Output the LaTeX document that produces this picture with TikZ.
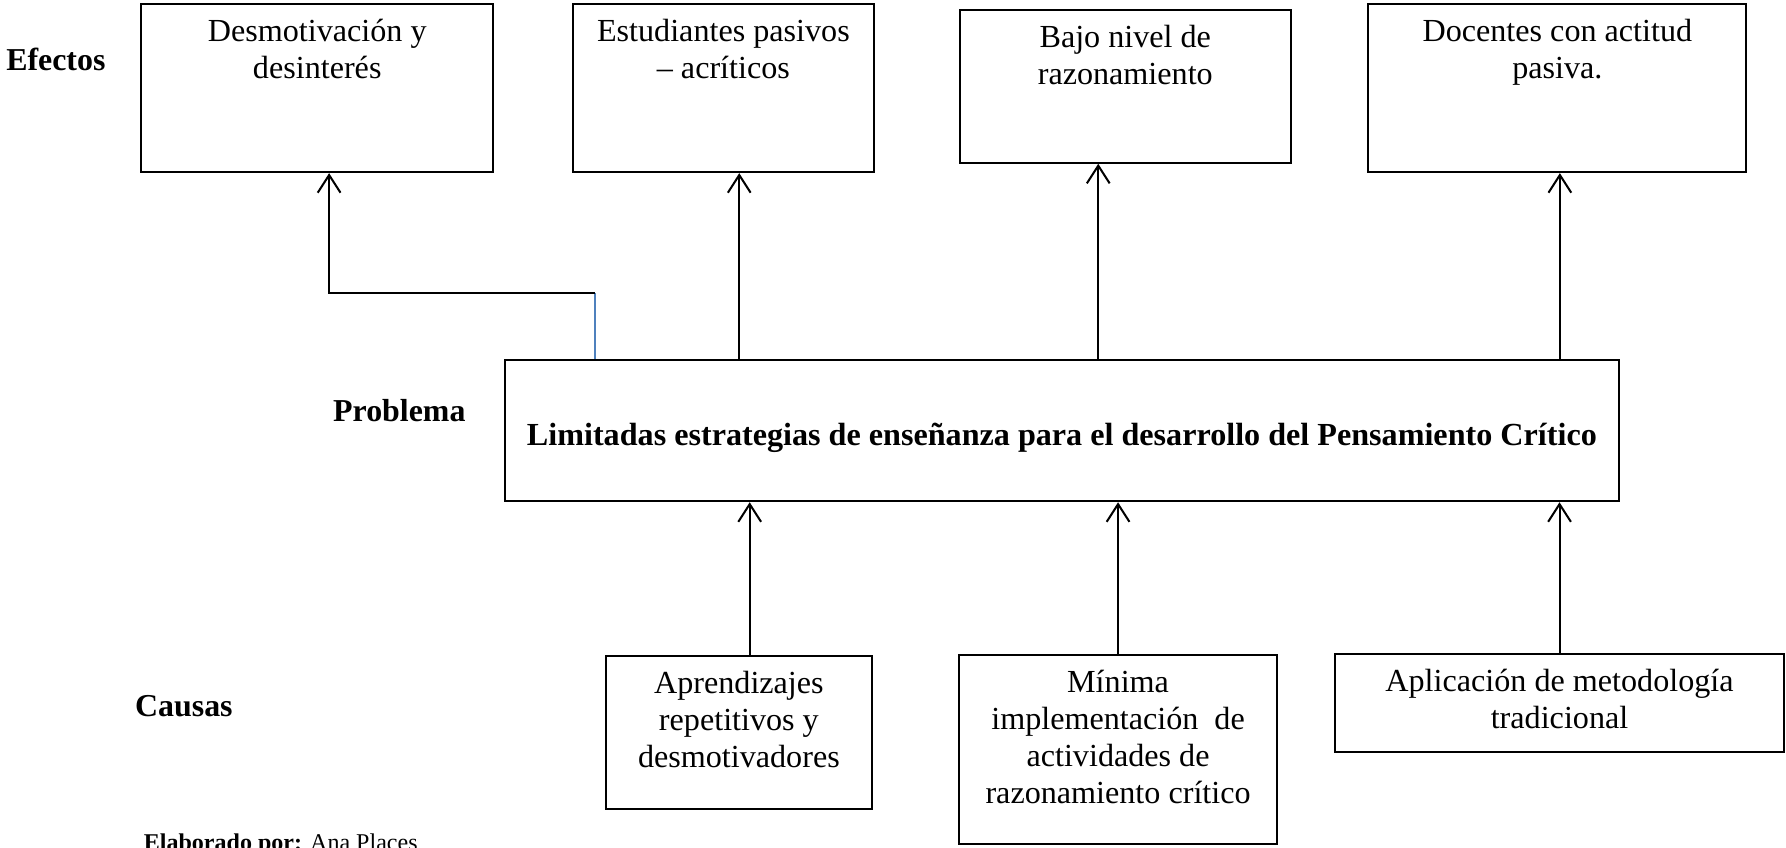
\documentclass[tikz,border=0pt]{standalone}
\usepackage{fontspec}
\setmainfont{Liberation Serif}
\usepackage{tikz}
\usetikzlibrary{calc}
\usetikzlibrary{arrows.meta}
\definecolor{azul}{RGB}{79,129,189}
\tikzset{
  caja/.style={draw, line width=0.8pt, rectangle, inner sep=0pt, font=\fontsize{12.7}{14.6}\selectfont},
  titulo/.style={anchor=west, inner sep=0pt, font=\fontsize{12.6}{14.4}\selectfont\bfseries},
  flecha/.style={line width=0.8pt, -{Straight Barb[length=7pt,width=9pt]}},
  linea/.style={line width=0.8pt}
}
\newcommand{\caja}[6]{\node[caja] (#1) at ( #2 , #3 ) {\begin{minipage}[c][#5cm][t]{#4cm}\centering\vspace*{6pt}#6\end{minipage}};}

\begin{document}
\begin{tikzpicture}
                \useasboundingbox (0,0) rectangle (24.80,11.77);
                % efectos
                \caja{ef1}{4.405}{10.55}{4.89}{2.34}{Desmotivación y\\ desinterés}
                \caja{ef2}{10.045}{10.55}{4.18}{2.34}{Estudiantes pasivos\\ – acríticos}
                \caja{ef3}{15.625}{10.57}{4.59}{2.12}{Bajo nivel de\\ razonamiento}
                \caja{ef4}{21.625}{10.55}{5.25}{2.34}{Docentes con actitud\\ pasiva.}
                % problema
                \node[caja, minimum width=15.47cm, minimum height=1.96cm, font=\fontsize{12.7}{14.6}\selectfont\bfseries] (problema) at (14.745,5.79) {\raisebox{-2.7pt}[9pt][3pt]{Limitadas estrategias de enseñanza para el desarrollo del Pensamiento Crítico}};
                % causas
                \caja{ca1}{10.26}{1.60}{3.69}{2.12}{Aprendizajes\\ repetitivos y\\ desmotivadores}
                \caja{ca2}{15.525}{1.36}{4.41}{2.62}{Mínima\\ implementación\ \ de\\ actividades de\\ razonamiento crítico}
                \caja{ca3}{21.655}{2.01}{6.23}{1.36}{Aplicación de metodología\\ tradicional}

                \node[titulo] (efectos) at (0.08,10.95) {Efectos};
                \node[titulo] (problemalbl) at (4.62,6.07) {Problema};
                \node[titulo] (causas) at (1.87,1.96) {Causas};
                \node[anchor=north west, inner sep=0pt, font=\fontsize{9.5}{11}\selectfont] (elaborado) at (1.99,0.2) {\textbf{Elaborado por:} Ana Places};

                % flechas hacia los efectos
                \coordinate (t1) at ([xshift=0.165cm]ef1.south);
                \coordinate (t2) at ([xshift=0.22cm]ef2.south);
                \coordinate (t3) at ([xshift=-0.375cm]ef3.south);
                \coordinate (t4) at ([xshift=0.035cm]ef4.south);
                \coordinate (codo) at ($(problema.north west)+(1.26,0.92)$);
                \draw[linea, azul] (problema.north -| codo) -- (codo);
                \draw[flecha] (codo) -| (t1);
                \draw[flecha] (t2 |- problema.north) -- (t2);
                \draw[flecha] (t3 |- problema.north) -- (t3);
                \draw[flecha] (t4 |- problema.north) -- (t4);

                % flechas desde las causas
                \coordinate (s1) at ([xshift=0.15cm]ca1.north);
                \coordinate (s2) at (ca2.north);
                \coordinate (s3) at (ca3.north);
                \draw[flecha] (s1) -- (s1 |- problema.south);
                \draw[flecha] (s2) -- (s2 |- problema.south);
                \draw[flecha] (s3) -- (s3 |- problema.south);
\end{tikzpicture}
\end{document}
